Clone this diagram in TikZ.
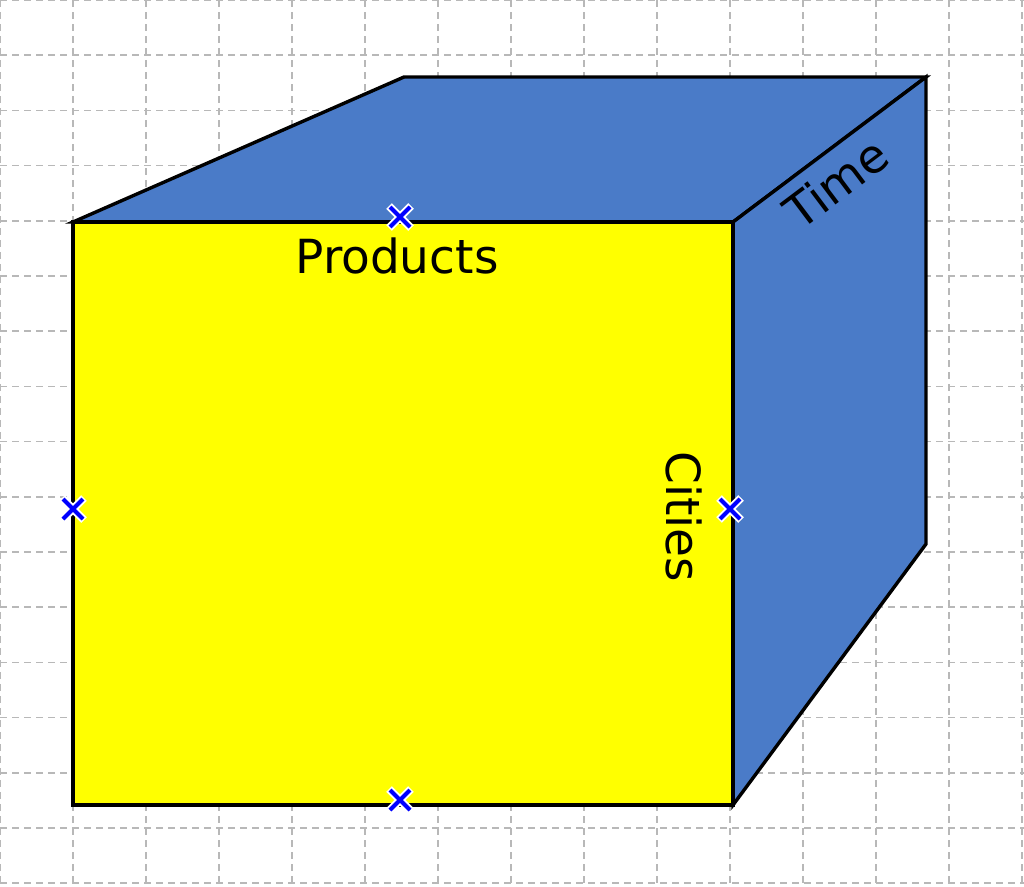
\documentclass[tikz,border=0pt]{standalone}
\usepackage{fontspec}
\setmainfont{DejaVu Sans}
\definecolor{faceblue}{HTML}{4A7BC8}
\definecolor{faceyellow}{HTML}{FFFF00}
\definecolor{gridgray}{HTML}{B8B8B8}
\tikzset{
  gridline/.style={gridgray, line width=1.5pt, dash pattern=on 7pt off 5pt},
  cubeedge/.style={black, line width=3.4pt, line join=miter},
  axislabel/.style={font=\fontsize{47}{56}\selectfont, inner sep=0pt},
  markhalo/.style={white, line width=8pt},
  markline/.style={blue, line width=4pt}
}
\newcommand{\cubemark}[1]{%
  \draw[markhalo] ($(#1)+(-11,-11)$) -- ($(#1)+(11,11)$) ($(#1)+(-11,11)$) -- ($(#1)+(11,-11)$);
  \draw[markline] ($(#1)+(-10,-10)$) -- ($(#1)+(10,10)$) ($(#1)+(-10,10)$) -- ($(#1)+(10,-10)$);
}
\usetikzlibrary{calc}
\begin{document}
\begin{tikzpicture}[x=1pt, y=-1pt]
    \useasboundingbox (0,0) rectangle (1024,886);
    \foreach \i in {0,...,14}
        \draw[gridline] (73*\i,0) -- (73*\i,886);
    \foreach \j in {0,...,16}
        \draw[gridline] (0,55.2*\j) -- (1024,55.2*\j);
    \coordinate (fl) at (73,222);
    \coordinate (fr) at (733,222);
    \coordinate (bl) at (73,805);
    \coordinate (br) at (733,805);
    \coordinate (tl) at (404,77);
    \coordinate (tr) at (926,77);
    \coordinate (rb) at (926,544);
    \draw[cubeedge, fill=faceblue] (fl) -- (tl) -- (tr) -- (fr) -- cycle;
    \draw[cubeedge, fill=faceblue] (fr) -- (tr) -- (rb) -- (br) -- cycle;
    \draw[cubeedge, fill=faceyellow] (fl) -- (fr) -- (br) -- (bl) -- cycle;
    \node[axislabel] (products) at (397,256) {Products};
    \node[axislabel, rotate=-90] (cities) at (684,517) {Cities};
    \node[axislabel, rotate=36.9] (time) at (836,183) {Time};
    \coordinate (mtop) at (400,217);
    \coordinate (mleft) at (73,509);
    \coordinate (mright) at (730,509);
    \coordinate (mbottom) at (400,800);
    \cubemark{mtop}
    \cubemark{mleft}
    \cubemark{mright}
    \cubemark{mbottom}
\end{tikzpicture}
\end{document}
